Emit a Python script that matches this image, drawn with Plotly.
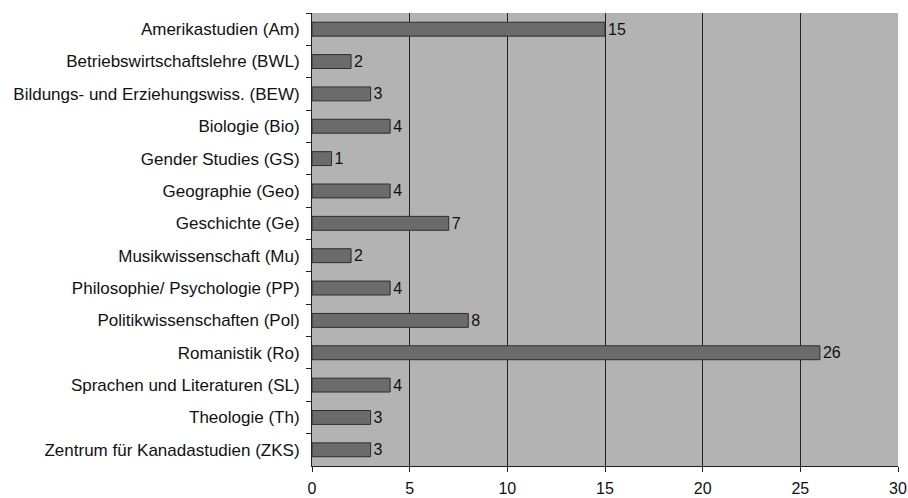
import plotly.graph_objects as go

categories = [
    "Amerikastudien (Am)",
    "Betriebswirtschaftslehre (BWL)",
    "Bildungs- und Erziehungswiss. (BEW)",
    "Biologie (Bio)",
    "Gender Studies (GS)",
    "Geographie (Geo)",
    "Geschichte (Ge)",
    "Musikwissenschaft (Mu)",
    "Philosophie/ Psychologie (PP)",
    "Politikwissenschaften (Pol)",
    "Romanistik (Ro)",
    "Sprachen und Literaturen (SL)",
    "Theologie (Th)",
    "Zentrum für Kanadastudien (ZKS)",
]
values = [15, 2, 3, 4, 1, 4, 7, 2, 4, 8, 26, 4, 3, 3]
x_ticks = [0, 5, 10, 15, 20, 25, 30]

FONT = "Liberation Sans, Arial, sans-serif"

fig = go.Figure(go.Bar(
    y=categories, x=values, orientation="h",
    marker=dict(color="#6b6b6b", line=dict(color="#2e2e2e", width=1)),
    width=0.43,
    text=[str(v) for v in values], textposition="outside",
    constraintext="none",
    textfont=dict(family=FONT, size=16, color="#111"),
    cliponaxis=False,
))

fig.update_layout(
    width=908, height=498,
    margin=dict(l=312, r=10, t=13, b=32, autoexpand=False),
    paper_bgcolor="white", plot_bgcolor="#b3b3b3",
    font=dict(family=FONT, size=16, color="#111"),
    showlegend=False,
)
fig.update_xaxes(
    range=[0, 30], tickvals=x_ticks, showgrid=True, gridcolor="#222", gridwidth=1,
    showline=True, linecolor="#222", ticks="outside", ticklen=5, tickcolor="#222",
    zeroline=False, tickfont=dict(size=16), ticklabelstandoff=3, automargin=False,
)
fig.update_yaxes(
    autorange="reversed", showline=True, linecolor="#222",
    ticks="outside", ticklen=5, tickcolor="#222", tickson="boundaries",
    ticklabelstandoff=8, automargin=False,
    showgrid=False, tickfont=dict(size=17),
)

fig.write_html(
    "out.html",
    config={"displayModeBar": False},
    post_script="document.body.style.margin='0';document.body.style.overflow='hidden';",
)
